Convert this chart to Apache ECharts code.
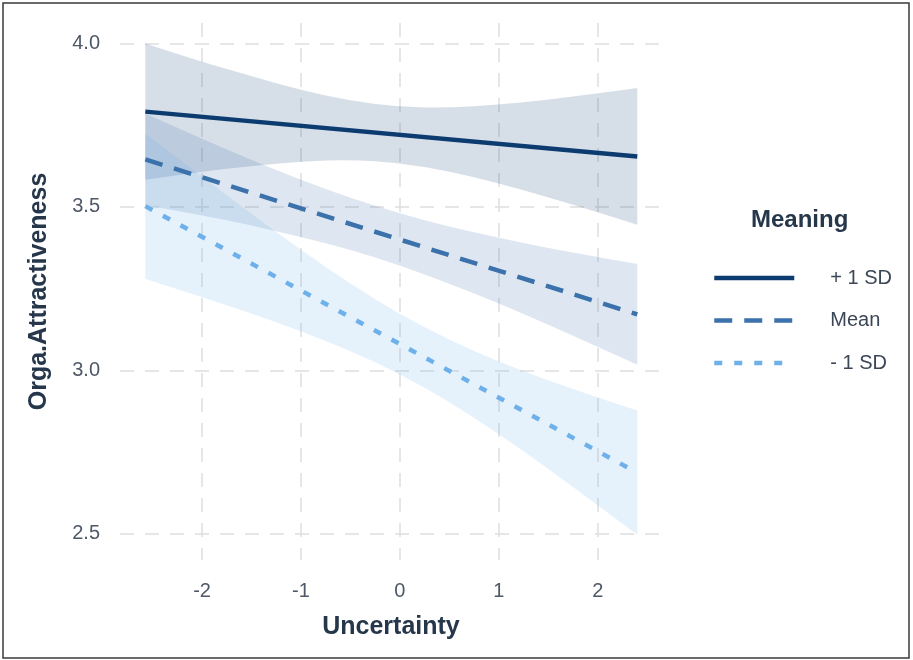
<!DOCTYPE html>
<html>
<head>
<meta charset="utf-8">
<title>Orga.Attractiveness by Uncertainty and Meaning</title>
<script src="https://cdn.jsdelivr.net/npm/echarts@6/dist/echarts.min.js"></script>
<style>
  html, body { margin: 0; padding: 0; background: #ffffff; }
  #chart { width: 913px; height: 660px; }
</style>
</head>
<body>
<div id="chart"></div>
<script>
// Simple slopes of Uncertainty at three levels of Meaning, with 95% confidence bands.
const groupNames = ['+ 1 SD', 'Mean', '- 1 SD'];

// x positions where the band edges are sampled
const bandX = [-2.574, -2, -1.5, -1, -0.5, 0, 0.5, 1, 1.5, 2, 2.40];

// fitted lines (start and end of the observed Uncertainty range)
const lineX = [-2.574, 2.40];
const highLine = [3.791, 3.654];
const meanLine = [3.645, 3.171];
const lowLine = [3.502, 2.687];

// confidence band edges
const highLower = [3.583, 3.607, 3.625, 3.639, 3.644, 3.635, 3.609, 3.572, 3.529, 3.483, 3.445];
const highUpper = [3.999, 3.943, 3.899, 3.857, 3.824, 3.805, 3.803, 3.812, 3.827, 3.847, 3.863];
const meanLower = [3.505, 3.474, 3.443, 3.408, 3.369, 3.321, 3.265, 3.205, 3.140, 3.072, 3.017];
const meanUpper = [3.785, 3.708, 3.643, 3.582, 3.527, 3.479, 3.439, 3.405, 3.374, 3.346, 3.325];
const lowLower = [3.280, 3.224, 3.174, 3.120, 3.060, 2.989, 2.904, 2.806, 2.699, 2.587, 2.497];
const lowUpper = [3.724, 3.592, 3.478, 3.368, 3.264, 3.171, 3.092, 3.026, 2.969, 2.917, 2.877];

// axis ticks
const xTicks = [-2, -1, 0, 1, 2];
const yTicks = [2.5, 3.0, 3.5, 4.0];

const lineColors = ['#0c3b70', '#3c72ab', '#6eb0ea'];
const bandFills = ['rgba(12,59,112,0.17)', 'rgba(60,114,171,0.17)', 'rgba(110,176,234,0.18)'];

const chart = echarts.init(document.getElementById('chart'), null, { renderer: 'canvas' });

// smooth edge through pixel points using midpoint quadratic curves
function smoothEdge(pts, start) {
  let d = (start ? 'M' : 'L') + pts[0][0] + ' ' + pts[0][1];
  for (let i = 1; i < pts.length - 1; i++) {
    const mx = (pts[i][0] + pts[i + 1][0]) / 2;
    const my = (pts[i][1] + pts[i + 1][1]) / 2;
    if (i === 1) {
      d += ' L' + ((pts[0][0] + pts[1][0]) / 2) + ' ' + ((pts[0][1] + pts[1][1]) / 2);
    }
    d += ' Q' + pts[i][0] + ' ' + pts[i][1] + ' ' + mx + ' ' + my;
  }
  const last = pts[pts.length - 1];
  d += ' L' + last[0] + ' ' + last[1];
  return d;
}

function bandSeries(id, lower, upper, fill) {
  return {
    type: 'custom',
    id: id,
    silent: true,
    z: 1,
    data: [[bandX[0], lower[0]]],
    renderItem: function (params, api) {
      const top = bandX.map((x, i) => api.coord([x, upper[i]]));
      const bottom = bandX.map((x, i) => api.coord([x, lower[i]])).reverse();
      const d = smoothEdge(top, true) + ' ' + smoothEdge(bottom, false) + ' Z';
      return { type: 'path', shape: { pathData: d }, style: { fill: fill, stroke: null } };
    }
  };
}

function lineSeries(name, ys, color, dash) {
  return {
    type: 'line',
    name: name,
    z: 3,
    symbol: 'none',
    showSymbol: false,
    data: lineX.map((x, i) => [x, ys[i]]),
    lineStyle: { color: color, width: 4.5, type: dash, cap: 'butt' },
    itemStyle: { color: color }
  };
}

const fontFamily = 'Liberation Sans, Arial, sans-serif';
const gridLine = { show: true, lineStyle: { color: '#dedede', width: 1.5, type: [14, 11] } };
const tickText = { color: '#4f5866', fontSize: 20, fontFamily: fontFamily };
const titleText = { color: '#26374c', fontSize: 25, fontWeight: 'bold', fontFamily: fontFamily };

chart.setOption({
  animation: false,
  backgroundColor: '#ffffff',
  grid: { left: 120, right: 251, top: 23, bottom: 100, containLabel: false },
  xAxis: {
    type: 'value',
    min: -2.83, max: 2.65,
    minInterval: 1, maxInterval: 1,
    name: 'Uncertainty',
    nameLocation: 'middle',
    nameGap: 55,
    nameTextStyle: titleText,
    axisLine: { show: false },
    axisTick: { show: false },
    axisLabel: Object.assign({ margin: 21, showMinLabel: false, showMaxLabel: false,
      formatter: v => (xTicks.indexOf(v) >= 0 ? String(v) : '') }, tickText),
    splitLine: Object.assign({ showMinLine: false, showMaxLine: false }, gridLine)
  },
  yAxis: {
    type: 'value',
    min: 2.42, max: 4.062,
    minInterval: 0.5, maxInterval: 0.5,
    name: 'Orga.Attractiveness',
    nameLocation: 'middle',
    nameGap: 68,
    nameTextStyle: titleText,
    axisLine: { show: false },
    axisTick: { show: false },
    axisLabel: Object.assign({ margin: 20, showMinLabel: false, showMaxLabel: false,
      formatter: v => (yTicks.indexOf(v) >= 0 ? v.toFixed(1) : '') }, tickText),
    splitLine: Object.assign({ showMinLine: false, showMaxLine: false }, gridLine)
  },
  title: {
    text: 'Meaning',
    left: 751, top: 208,
    padding: 0,
    textStyle: Object.assign({}, titleText, { fontSize: 24 })
  },
  legend: {
    data: groupNames,
    orient: 'vertical',
    left: 712, top: 268,
    padding: 0,
    itemWidth: 80, itemHeight: 20, itemGap: 22.5,
    itemStyle: { color: 'rgba(0,0,0,0)', borderWidth: 0 },
    lineStyle: { width: 4.5 },
    textStyle: { color: '#3b4656', fontSize: 20, fontFamily: fontFamily, padding: [0, 0, 0, 31] }
  },
  graphic: [{
    type: 'rect', silent: true, z: 100,
    shape: { x: 3, y: 3, width: 906, height: 655 },
    style: { fill: null, stroke: '#3a3a3a', lineWidth: 1.5 }
  }],
  series: [
    bandSeries('band-high', highLower, highUpper, bandFills[0]),
    bandSeries('band-mean', meanLower, meanUpper, bandFills[1]),
    bandSeries('band-low', lowLower, lowUpper, bandFills[2]),
    lineSeries(groupNames[0], highLine, lineColors[0], 'solid'),
    lineSeries(groupNames[1], meanLine, lineColors[1], [18, 12]),
    lineSeries(groupNames[2], lowLine, lineColors[2], [8, 12])
  ]
});
</script>
</body>
</html>
